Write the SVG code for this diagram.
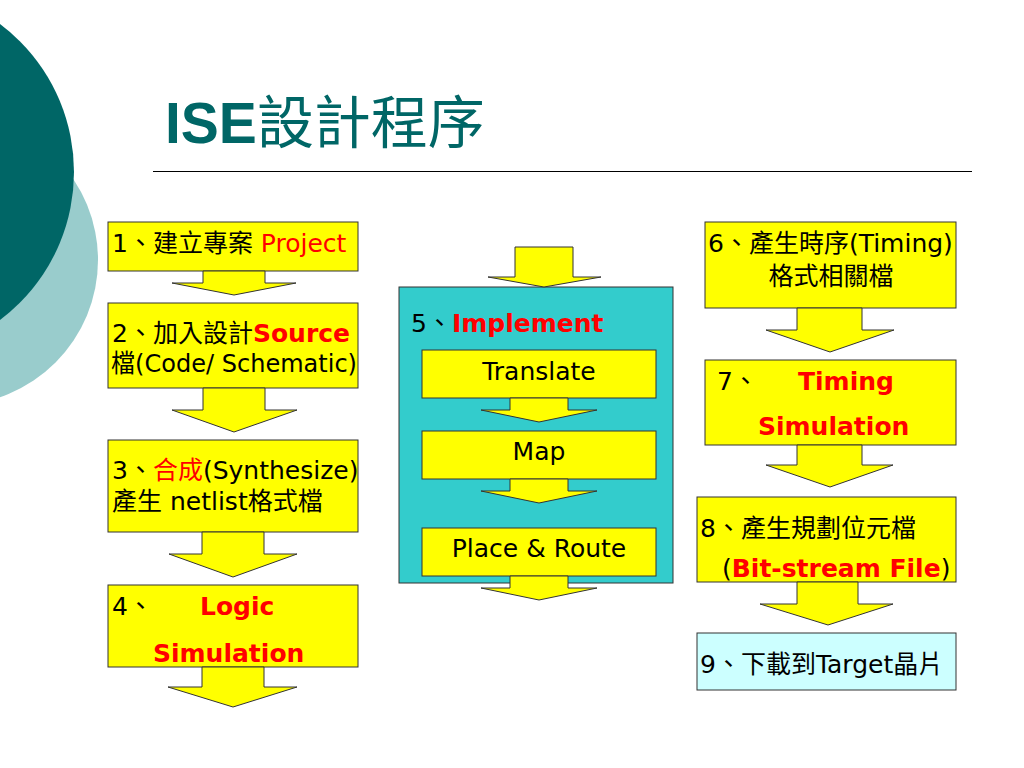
<svg xmlns="http://www.w3.org/2000/svg" width="1024" height="768" viewBox="0 0 1024 768">
<style>
.box{fill:#ffff00;stroke:#333333;stroke-width:1}
.arr{fill:#ffff00;stroke:#333333;stroke-width:1;stroke-linejoin:miter}
.t{font-family:"DejaVu Sans","Noto Sans CJK TC",sans-serif;font-size:25px;fill:#000000}
.r{fill:#ff0000}
.b{font-weight:bold;fill:#ff0000}
</style>
<rect width="1024" height="768" fill="#ffffff"/>
<g id="decor">
<circle cx="-47" cy="260" r="145" fill="#99cccc"/>
<circle cx="-111" cy="172" r="185" fill="#006666"/>
</g>
<g id="title">
<text x="165" y="143" font-size="57" fill="#006666"><tspan font-family="'Liberation Sans',Arial,sans-serif" font-weight="bold">ISE</tspan><tspan font-family="'Noto Sans CJK TC',sans-serif">設計程序</tspan></text>
<line x1="153" y1="171.5" x2="972" y2="171.5" stroke="#000000" stroke-width="1"/>
</g>
<g id="node1"><rect class="box" x="108" y="222" width="250" height="49"/>
<text class="t" x="112" y="252">1、建立專案 <tspan class="r">Project</tspan></text></g>
<g id="node2"><rect class="box" x="108" y="303" width="250" height="85"/>
<text class="t" x="112" y="342">2、加入設計<tspan class="b">Source</tspan></text>
<text class="t" x="111" y="372" textLength="246" lengthAdjust="spacingAndGlyphs">檔(Code/ Schematic)</text></g>
<g id="node3"><rect class="box" x="108" y="440" width="250" height="92"/>
<text class="t" x="112" y="479">3、<tspan class="r">合成</tspan>(Synthesize)</text>
<text class="t" x="112" y="510">產生 netlist格式檔</text></g>
<g id="node4"><rect class="box" x="108" y="585" width="250" height="82"/>
<text class="t" x="112" y="615">4、</text>
<text class="t b" x="200" y="615">Logic</text>
<text class="t b" x="153" y="662">Simulation</text></g>
<g id="node5"><rect x="399" y="287" width="274" height="296" fill="#33cccc" stroke="#333333" stroke-width="1"/>
<text class="t" x="411" y="332">5、<tspan class="b">Implement</tspan></text></g>
<g id="node5a"><rect class="box" x="422" y="350" width="234" height="48"/>
<text class="t" x="539" y="380" text-anchor="middle">Translate</text></g>
<g id="node5b"><rect class="box" x="422" y="431" width="234" height="48"/>
<text class="t" x="539" y="460" text-anchor="middle">Map</text></g>
<g id="node5c"><rect class="box" x="422" y="528" width="234" height="48"/>
<text class="t" x="539" y="557" text-anchor="middle">Place &amp; Route</text></g>
<g id="node6"><rect class="box" x="705" y="222" width="251" height="86"/>
<text class="t" x="708" y="252">6、產生時序(Timing)</text>
<text class="t" x="831" y="285" text-anchor="middle">格式相關檔</text></g>
<g id="node7"><rect class="box" x="705" y="360" width="251" height="85"/>
<text class="t" x="717" y="390">7、</text>
<text class="t b" x="798" y="390">Timing</text>
<text class="t b" x="758" y="435">Simulation</text></g>
<g id="node8"><rect class="box" x="697" y="497" width="259" height="85"/>
<text class="t" x="700" y="537">8、產生規劃位元檔</text>
<text class="t" x="722" y="577">(<tspan class="b">Bit-stream File</tspan>)</text></g>
<g id="node9"><rect x="697" y="633" width="259" height="57" fill="#ccffff" stroke="#333333" stroke-width="1"/>
<text class="t" x="700" y="673">9、下載到Target晶片</text></g>
<g id="connectors">
<path class="arr" d="M203,271 L265,271 L265,283 L296,283 L234,295 L172,283 L203,283 Z"/>
<path class="arr" d="M203,388 L265,388 L265,410 L297,410 L234,432 L172,410 L203,410 Z"/>
<path class="arr" d="M202,532 L264,532 L264,554 L297,554 L233,577 L169,554 L202,554 Z"/>
<path class="arr" d="M202,667 L264,667 L264,687 L297,687 L233,707 L168,687 L202,687 Z"/>
<path class="arr" d="M515,247 L573,247 L573,277 L601,277 L544,287 L488,277 L515,277 Z"/>
<path class="arr" d="M510,398 L568,398 L568,410 L597,410 L539,422 L481,410 L510,410 Z"/>
<path class="arr" d="M510,479 L568,479 L568,491 L597,491 L539,503 L481,491 L510,491 Z"/>
<path class="arr" d="M510,576 L568,576 L568,588 L597,588 L539,600 L481,588 L510,588 Z"/>
<path class="arr" d="M797,308 L862,308 L862,330 L894,330 L830,352 L766,330 L797,330 Z"/>
<path class="arr" d="M797,445 L862,445 L862,465 L893,465 L830,487 L766,465 L797,465 Z"/>
<path class="arr" d="M797,582 L858,582 L858,604 L893,604 L828,625 L760,604 L797,604 Z"/>
</g>
</svg>
